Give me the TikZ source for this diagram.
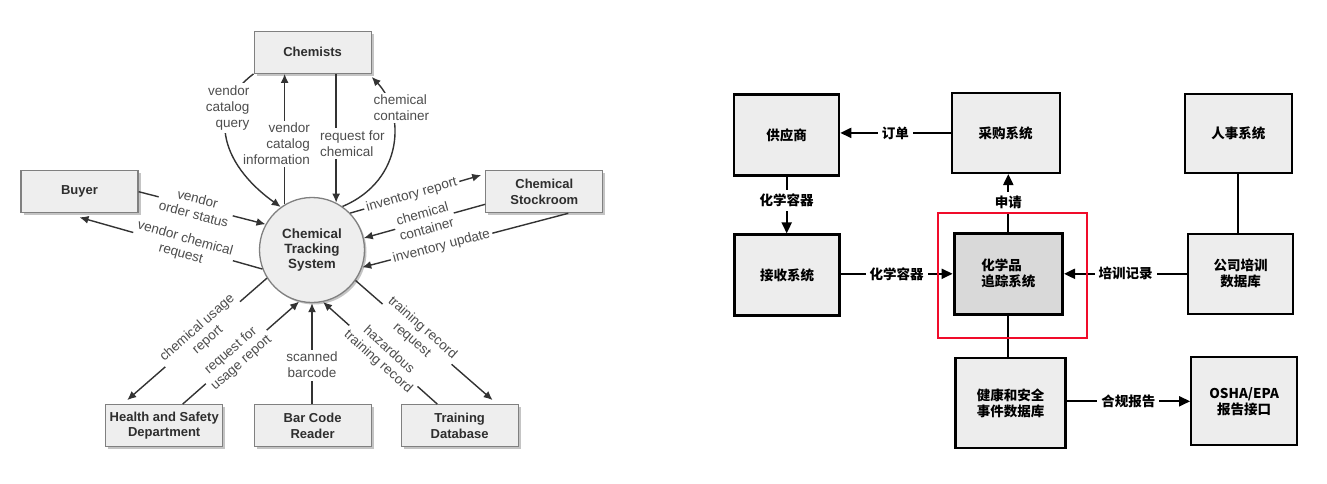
\documentclass[tikz,border=0pt]{standalone}
\usepackage{fontspec}
\setmainfont{Liberation Sans}
\newfontfamily\cjkfont{Noto Sans CJK SC}
\usetikzlibrary{arrows.meta,shadows,calc}

\definecolor{boxfill}{HTML}{EEEEEE}
\definecolor{boxline}{HTML}{808080}
\definecolor{boxtext}{HTML}{2E2E2E}
\definecolor{shadowgray}{HTML}{C4C4C4}
\definecolor{labelgray}{HTML}{4D4D4D}
\definecolor{linecol}{HTML}{333333}
\definecolor{scanfill}{HTML}{EDEDED}
\definecolor{scandark}{HTML}{D9D9D9}
\definecolor{markred}{RGB}{240,12,42}

\begin{document}
\begin{tikzpicture}[x=1pt,y=-1pt,
  entity/.style={draw=boxline, fill=boxfill, line width=1.2pt,
    minimum width=117pt, minimum height=42pt, inner sep=0pt, align=center,
    font=\fontsize{13}{15.5}\selectfont\bfseries, text=boxtext,
    drop shadow={shadow xshift=2.5pt, shadow yshift=-2.5pt, fill=shadowgray, opacity=1}},
  process/.style={circle, draw=boxline, fill=boxfill, line width=1.3pt,
    minimum size=105pt, inner sep=0pt, align=center,
    font=\fontsize{13.4}{15}\selectfont\bfseries, text=boxtext,
    drop shadow={shadow xshift=2pt, shadow yshift=-2pt, fill=shadowgray, opacity=1}},
  flow/.style={draw=linecol, line width=1.4pt, -{Latex[length=9pt,width=8pt]}},
  flowlabel/.style={fill=white, inner sep=2.5pt, text=labelgray, align=center,
    font=\fontsize{13.5}{16}\selectfont},
  rbox/.style={draw=black, line width=2.2pt, fill=scanfill, inner sep=0pt,
    align=center, font=\cjkfont\bfseries\fontsize{13.5}{16}\selectfont},
  rflow/.style={draw=black, line width=2pt, -{Triangle[length=11pt,width=10pt]}},
  rline/.style={draw=black, line width=2pt},
  rlabel/.style={fill=white, inner sep=4pt, font=\cjkfont\bfseries\fontsize{13.5}{16}\selectfont},
  highlight/.style={draw=markred, line width=2.2pt}
]
\useasboundingbox (0,0) rectangle (1327,484);

% ---------------- context diagram ----------------
\node[entity] (chem)  at (312.6,52.3)  {Chemists};
\node[entity] (buyer) at (79.5,191.7)  {Buyer};
\node[entity] (stock) at (544.3,191.7) {Chemical\\Stockroom};
\node[entity] (hsd)   at (164.2,425.7) {Health and Safety\\Department};
\node[entity] (bcr)   at (312.6,425.7) {Bar Code\\Reader};
\node[entity] (tdb)   at (459.6,425.7) {Training\\Database};
\node[process] (cts)  at (312,250)     {Chemical\\Tracking\\System};

% flows between the chemists and the system
\draw[flow] (chem.south west) .. controls (208,108) and (218,162) .. (cts.126);
\draw[flow] (cts.121.5) -- (cts.121.5 |- chem.south);
\node[flowlabel, anchor=east, align=right] (ilab) at (312.5,144) {vendor\\catalog\\information};
\node[flowlabel, anchor=east, align=right] (qlab) at (252,108) {vendor\\catalog\\query};

\draw[flow] (chem.south -| cts.63) -- (cts.63);
\draw[flow] (cts.55) .. controls (405,180) and (405,112) .. ([yshift=-3pt]chem.south east);
\node[flowlabel, anchor=west, align=left] (rlab) at (317.5,143.5) {request for\\chemical};
\node[flowlabel, anchor=west, align=left] (clab) at (371,108) {chemical\\container};

% buyer
\draw[flow] (buyer.east) -- (cts.151)
  node[flowlabel, sloped, pos=0.45] (oslab) {vendor\\order status};
\draw[flow] (cts.201) -- ([yshift=-4pt]buyer.south)
  node[flowlabel, sloped, pos=0.434] (vrlab) {vendor chemical\\request};

% stockroom
\draw[flow] (cts.44) -- ([xshift=-4pt,yshift=-5pt]stock.north west)
  node[flowlabel, sloped, pos=0.47] (irlab) {inventory report};
\draw[flow] ([yshift=-12.6pt]stock.west) -- (cts.13.6)
  node[flowlabel, sloped, pos=0.5] (sclab) {chemical\\container};
\draw[flow] ([xshift=24pt]stock.south) -- (cts.341.7)
  node[flowlabel, sloped, pos=0.615] (iulab) {inventory update};

% health and safety
\draw[flow] (cts.212.9) -- ([xshift=-37pt,yshift=4pt]hsd.north)
  node[flowlabel, sloped, pos=0.46] (culab) {chemical usage\\report};
\draw[flow] ([xshift=18.5pt]hsd.north) -- (cts.256)
  node[flowlabel, sloped, pos=0.46] (rulab) {request for\\usage report};

% bar code reader
\draw[flow] (cts.270 |- bcr.north) -- (cts.270)
  node[flowlabel, pos=0.386] (sblab) {scanned\\barcode};

% training database
\draw[flow] ([xshift=-22.3pt]tdb.north) -- (cts.282)
  node[flowlabel, sloped, pos=0.472] (htlab) {hazardous\\training record};
\draw[flow] (cts.325) -- ([xshift=33pt,yshift=4pt]tdb.north)
  node[flowlabel, sloped, pos=0.449] (trlab) {training record\\request};

% ---------------- system block diagram ----------------
\node[rbox, minimum width=105pt, minimum height=81pt] (sup) at (786.7,135)   {供应商};
\node[rbox, minimum width=108pt, minimum height=80pt] (pur) at (1005.7,132.9) {采购系统};
\node[rbox, minimum width=107pt, minimum height=79pt] (hr)  at (1238.3,133.7) {人事系统};
\node[rbox, minimum width=105pt, minimum height=81pt] (rcv) at (787,275)     {接收系统};
\node[rbox, line width=3.4pt, fill=scandark, align=left,
      minimum width=108pt, minimum height=81pt] (trk) at (1008.3,273.8) {化学品\\追踪系统};
\node[rbox, minimum width=105pt, minimum height=80pt] (ctd) at (1240.7,273.8) {公司培训\\数据库};
\node[rbox, minimum width=110pt, minimum height=90pt] (hs)  at (1010.5,403.3) {健康和安全\\事件数据库};
\node[rbox, minimum width=106pt, minimum height=88pt] (osha) at (1244.2,401.3) {OSHA/EPA\\报告接口};

\draw[rflow] (pur.west) -- (pur.west -| sup.east) node[rlabel, pos=0.5] (l1) {订单};
\draw[rflow] (sup.south) -- (sup.south |- rcv.north) node[rlabel, pos=0.42] (l2) {化学容器};
\draw[rflow] (trk.west -| rcv.east) -- (trk.west) node[rlabel, pos=0.5] (l3) {化学容器};
\draw[rflow] (trk.north) -- (trk.north |- pur.south) node[rlabel, pos=0.5] (l4) {申请};
\draw[rflow] (ctd.west) -- (ctd.west -| trk.east) node[rlabel, pos=0.5] (l5) {培训记录};
\draw[rline] (hr.south) -- (hr.south |- ctd.north);
\draw[rline] (trk.south) -- (trk.south |- hs.north);
\draw[rflow] (osha.west -| hs.east) -- (osha.west) node[rlabel, pos=0.5] (l6) {合规报告};

% highlight frame round the tracking system
\draw[highlight] (938.3,213.3) rectangle (1086.7,338.3);
\end{tikzpicture}
\end{document}
